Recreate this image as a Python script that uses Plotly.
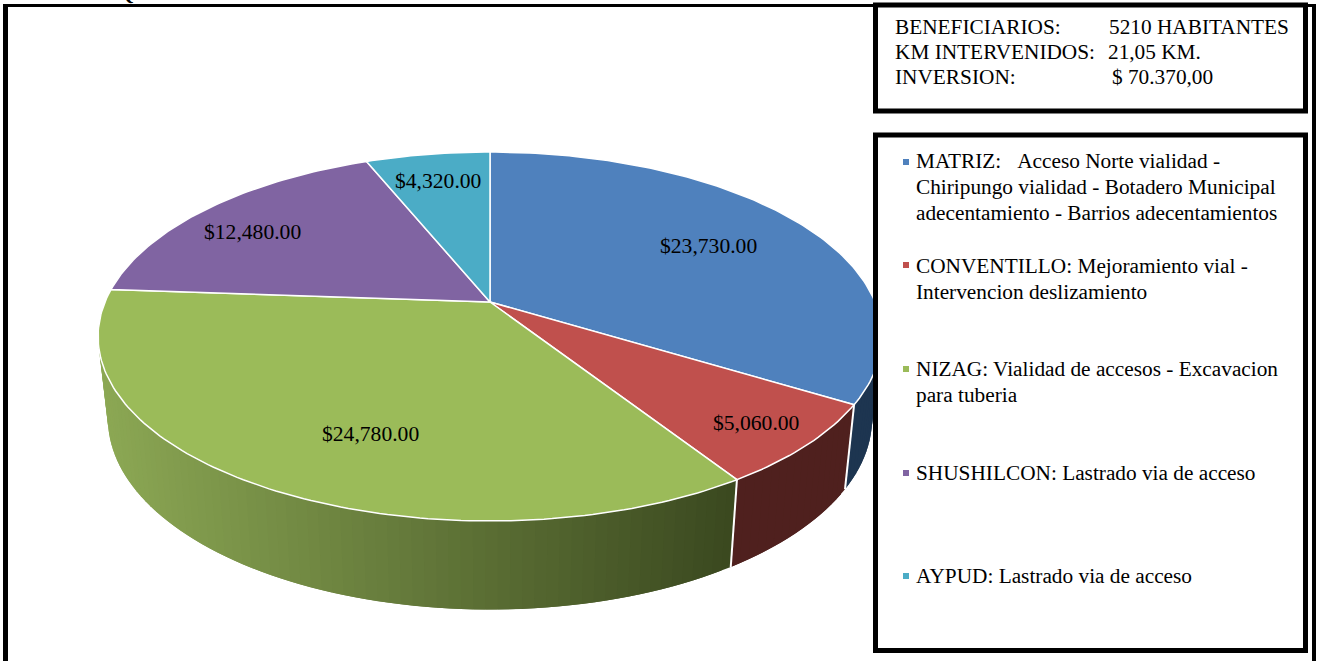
import math
import plotly.graph_objects as go

# ---- data ----
categories = ["MATRIZ", "CONVENTILLO", "NIZAG", "SHUSHILCON", "AYPUD"]
values = [23730, 5060, 24780, 12480, 4320]
value_labels = ["$23,730.00", "$5,060.00", "$24,780.00", "$12,480.00", "$4,320.00"]
top_colors = ["#4f81bd", "#c0504d", "#9bbb59", "#8064a2", "#4bacc6"]
wall_start = [(29, 53, 80), (79, 32, 30), (140, 168, 84), (80, 64, 102), (30, 70, 90)]
wall_end = [(29, 53, 80), (79, 32, 30), (58, 72, 31), (80, 64, 102), (30, 70, 90)]
label_pos = [(708, 246), (756, 423), (370, 434), (252, 232), (438, 181)]

info_rows = [
    ("BENEFICIARIOS:", 893, 27), ("5210 HABITANTES", 1107, 27),
    ("KM INTERVENIDOS:", 893, 52), ("21,05 KM.", 1106, 52),
    ("INVERSION:", 893, 77), ("$ 70.370,00", 1110, 77),
]
legend_rows = [
    ("MATRIZ:\u00a0\u00a0\u00a0Acceso Norte vialidad -", 161),
    ("Chiripungo vialidad - Botadero Municipal", 187),
    ("adecentamiento - Barrios adecentamientos", 213),
    ("CONVENTILLO: Mejoramiento vial -", 266),
    ("Intervencion deslizamiento", 292),
    ("NIZAG: Vialidad de accesos - Excavacion", 369),
    ("para tuberia", 395),
    ("SHUSHILCON: Lastrado via de acceso", 473),
    ("AYPUD: Lastrado via de acceso", 576),
]
legend_marker_y = [162, 265, 369, 473, 576]

FONT = "Liberation Serif"
FS = 21.3
FS_LABEL = 21.6

# ---- perspective model of the tilted disc ----
CX, CY = 490.0, 302.0
A, B, P = 385.0, 178.0, 0.187
SX, SY, DY = 0.975, 1.035, 81.0


def top_pt(theta):
    u, f = math.sin(theta), -math.cos(theta)
    w = 1 - P * f
    return CX + A * u / w, CY + B * f / w


def bottom_pt(theta):
    x, y = top_pt(theta)
    return CX + SX * (x - CX), CY + DY + SY * (y - CY)


def lerp(c0, c1, t):
    t = max(0.0, min(1.0, t))
    return "rgb(%d,%d,%d)" % tuple(round(a + (b - a) * t) for a, b in zip(c0, c1))


total = sum(values)
edges = [0.0]
for v in values:
    edges.append(edges[-1] + v / total * 2 * math.pi)

right_limit = math.acos(-P)           # angle of the right silhouette
left_limit = 2 * math.pi - right_limit  # angle of the left silhouette

fig = go.Figure()

# side walls (front part only), built band by band; every band reaches over the
# next one, and the next band paints over it, so no seams show between them
for i in range(len(values)):
    a0 = max(edges[i], right_limit)
    a1 = min(edges[i + 1], left_limit)
    if a1 <= a0:
        continue
    n = max(1, int((a1 - a0) / math.radians(1.5)))
    for k in range(n):
        t0 = a0 + (a1 - a0) * k / n
        t1 = a0 + (a1 - a0) * min(k + 2, n) / n
        tm = a0 + (a1 - a0) * (k + 0.5) / n
        xs = [top_pt(t0)[0]]
        ys = [top_pt(t0)[1]]
        for m in range(5):
            x, y = top_pt(t0 + (t1 - t0) * m / 4)
            xs.append(x)
            ys.append(y)
        for m in range(4, -1, -1):
            x, y = bottom_pt(t0 + (t1 - t0) * m / 4)
            xs.append(x)
            ys.append(y)
        xs.append(xs[0])
        ys.append(ys[0])
        # light on the left of the wall, dark on the right
        frac = (731 - bottom_pt(tm)[0]) / (731 - 108)
        col = lerp(wall_end[i], wall_start[i], frac)
        fig.add_trace(go.Scatter(
            x=xs, y=ys, mode="lines", fill="toself", fillcolor=col,
            line=dict(color=col, width=0), hoverinfo="skip", showlegend=False))

# white seams between the walls
for e in edges[1:3]:
    xt, yt = top_pt(e)
    xb, yb = bottom_pt(e)
    fig.add_trace(go.Scatter(x=[xt, xb], y=[yt, yb], mode="lines",
                             line=dict(color="white", width=2),
                             hoverinfo="skip", showlegend=False))

# top face slices
for i, cat in enumerate(categories):
    n = max(4, int((edges[i + 1] - edges[i]) / math.radians(1)))
    xs, ys = [CX], [CY]
    for k in range(n + 1):
        x, y = top_pt(edges[i] + (edges[i + 1] - edges[i]) * k / n)
        xs.append(x)
        ys.append(y)
    xs.append(CX)
    ys.append(CY)
    fig.add_trace(go.Scatter(
        x=xs, y=ys, mode="lines", fill="toself", fillcolor=top_colors[i],
        line=dict(color="white", width=1.5), name=cat,
        text=value_labels[i], hoverinfo="name+text", showlegend=False))

annotations = []


def add_text(text, x, y, anchor="left", size=FS):
    annotations.append(dict(text=text, x=x, y=y, xref="x", yref="y", xanchor=anchor,
                            yanchor="middle", showarrow=False,
                            font=dict(family=FONT, size=size, color="black")))


for lab, (x, y) in zip(value_labels, label_pos):
    add_text(lab, x, y, "center", FS_LABEL)
for text, x, y in info_rows:
    add_text(text, x, y)
for text, y in legend_rows:
    add_text(text, 914, y)

# clipped heading fragment at the top edge of the page
annotations.append(dict(text="<b>Q</b>", x=126, y=1, xref="x", yref="paper",
                        xanchor="center", yanchor="middle", yshift=7, showarrow=False,
                        font=dict(family=FONT, size=19, color="black")))


def rect(x0, y0, x1, y1, fill=None, lw=0, line="black"):
    return dict(type="rect", xref="x", yref="y", x0=x0, y0=y0, x1=x1, y1=y1, layer="above",
                fillcolor=fill if fill else "rgba(0,0,0,0)",
                line=dict(color=line, width=lw))


shapes = [
    rect(3, 4, 1316, 7, "black"),          # outer top rule
    rect(3, 4, 8, 661, "black"),           # outer left rule
    rect(1312, 4, 1316, 661, "black"),     # outer right rule
    rect(875.5, 5, 1305.5, 111, "white", 5),
    rect(875.5, 135, 1305.5, 650.5, "white", 5),
]
for c, y in zip(top_colors, legend_marker_y):
    shapes.append(rect(903, y - 3, 909, y + 3, c))

fig.update_layout(
    width=1318, height=661, margin=dict(l=0, r=0, t=0, b=0),
    paper_bgcolor="white", plot_bgcolor="white", showlegend=False,
    xaxis=dict(range=[0, 1318], visible=False, fixedrange=True),
    yaxis=dict(range=[661, 0], visible=False, fixedrange=True),
    annotations=annotations, shapes=shapes,
)

fig.write_html("out.html", config={"displayModeBar": False},
               post_script="document.body.style.margin='0';document.body.style.overflow='hidden';")
